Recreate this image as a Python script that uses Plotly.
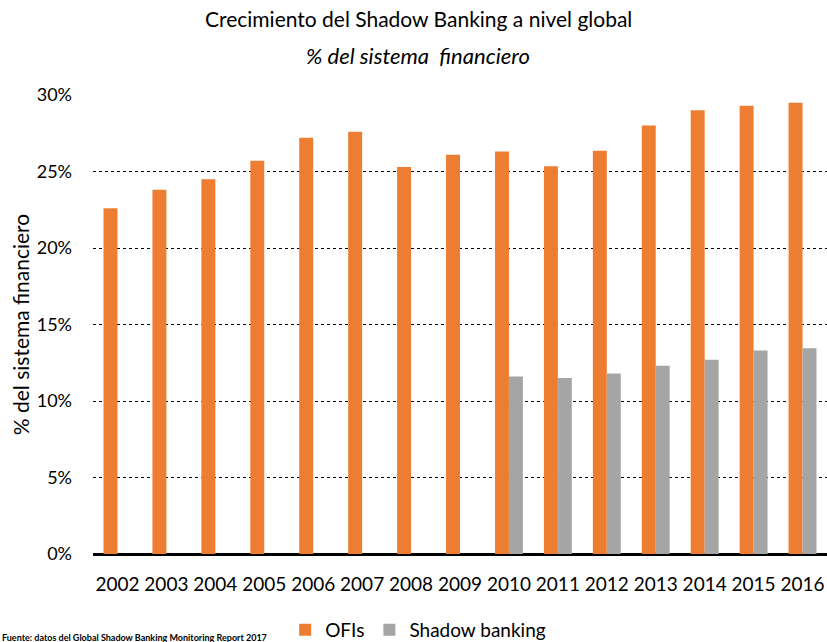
import plotly.graph_objects as go

years = ["2002", "2003", "2004", "2005", "2006", "2007", "2008", "2009",
         "2010", "2011", "2012", "2013", "2014", "2015", "2016"]
ofis = [22.6, 23.8, 24.5, 25.7, 27.2, 27.6, 25.3, 26.1,
        26.3, 25.35, 26.35, 28.0, 29.0, 29.3, 29.5]
shadow = [None, None, None, None, None, None, None, None,
          11.6, 11.5, 11.8, 12.3, 12.7, 13.3, 13.45]
y_ticks = [0, 5, 10, 15, 20, 25, 30]
y_labels = ["0%", "5%", "10%", "15%", "20%", "25%", "30%"]

FONT = "Lato"

fig = go.Figure()
fig.add_trace(go.Bar(x=years, y=ofis, name="OFIs", marker_color="#ED7D31",
                     marker_line_width=0))
fig.add_trace(go.Bar(x=years, y=shadow, name="Shadow banking", marker_color="#A5A5A5",
                     marker_line_width=0))

fig.update_layout(
    width=827, height=642,
    margin=dict(l=93, r=0, t=95, b=88, autoexpand=False),
    paper_bgcolor="white", plot_bgcolor="white",
    barmode="group", bargap=0.43, bargroupgap=0,
    font=dict(family=FONT, color="black"),
    showlegend=True,
    legend=dict(orientation="h", x=0.443, xanchor="center", y=-0.124, yanchor="top",
                font=dict(size=19, family=FONT), traceorder="normal"),
    xaxis=dict(type="category", tickfont=dict(size=19), showgrid=False,
               showline=False, ticks="", ticklabelstandoff=17, automargin=False),
    yaxis=dict(range=[0, 30], tickvals=y_ticks, ticktext=y_labels,
               tickfont=dict(size=18), showgrid=True, gridcolor="black",
               griddash="3px,3px", gridwidth=1, zeroline=True, zerolinecolor="black",
               zerolinewidth=3, showline=False, ticks="", ticklabelstandoff=20,
               automargin=False,
               title=dict(text="% del sistema financiero", font=dict(size=21),
                          standoff=1)),
)
fig.add_annotation(text="Crecimiento del Shadow Banking a nivel global",
                   xref="paper", yref="paper", x=0.443, y=1.0, yshift=77,
                   showarrow=False, xanchor="center", yanchor="middle",
                   font=dict(size=21, family=FONT))
fig.add_annotation(text="<i>% del sistema  financiero</i>",
                   xref="paper", yref="paper", x=0.443, y=1.0, yshift=40,
                   showarrow=False, xanchor="center", yanchor="middle",
                   font=dict(size=22, family=FONT))
fig.add_annotation(text="<b>Fuente: datos del Global Shadow Banking Monitoring Report 2017</b>",
                   xref="paper", yref="paper", x=0, xshift=-93, y=0, yshift=-83,
                   showarrow=False, xanchor="left", yanchor="middle",
                   font=dict(size=9, family=FONT))
fig.write_html("out.html", config={"displayModeBar": False},
               post_script="document.body.style.margin='0';")
